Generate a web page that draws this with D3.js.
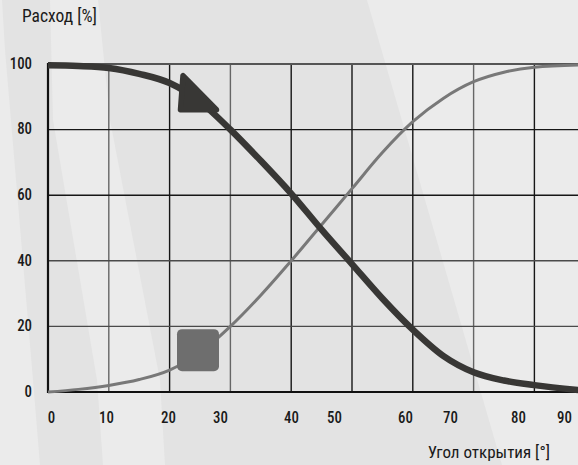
<!DOCTYPE html>
<html>
<head>
<meta charset="utf-8">
<script src="https://cdn.jsdelivr.net/npm/d3@7"></script>
<style>
  html, body { margin: 0; padding: 0; background: #e3e3e3; }
  svg { display: block; }
  text { font-family: "Roboto Condensed", Roboto, "Liberation Sans Narrow", sans-serif; fill: #1a1a1a; }
</style>
</head>
<body>
<svg id="chart" width="578" height="465"></svg>
<script>
// ---- data ----
const yAxisTitle = "Расход [%]";
const xAxisTitle = "Угол открытия [°]";
const xTickLabels = [0, 10, 20, 30, 40, 50, 60, 70, 80, 90];
const yTickLabels = [0, 20, 40, 60, 80, 100];
const curveAngles = [0, 5, 10, 15, 20, 25, 30, 35, 40, 45, 50, 55, 60, 65, 70, 75, 80, 87.2];
const closingValues = [99.6, 99.4, 98.8, 97, 94.2, 88.5, 80, 70.5, 60.5, 49.5, 39, 28.5, 19, 11, 6, 3.5, 2.1, 0.6];
const openingValues = [0, 0.8, 2, 3.8, 6.7, 12, 20, 29.5, 40, 51, 62, 73, 82.4, 89.5, 94.6, 97.5, 99, 99.7];
const markerAngle = 25;

// ---- layout ----
const W = 578, H = 465;
const pLeft = 48, pTop = 64, pBottom = 392, gridStep = 60.8;
const svg = d3.select("#chart");

const x = d3.scaleLinear().domain([0, 90]).range([pLeft, pLeft + gridStep * 9]);
const y = d3.scaleLinear().domain([0, 100]).range([pBottom, pTop]);
// tick labels are placed irregularly in the original artwork
const xLabel = d3.scaleLinear().domain(xTickLabels)
  .range([51, 106, 168, 220, 291, 334, 405, 450, 518, 564]);

// ---- background bands ----
const bg = svg.append("g");
bg.append("rect").attr("width", W).attr("height", H).attr("fill", "#e3e3e3");
const bands = [
  [[0,0],[2,0],[5,50],[33,380],[40,465],[0,465]],
  [[50,0],[98,0],[110,120],[160,380],[165,465],[103,465],[97,380],[53,120]],
  [[367,0],[578,0],[578,465],[502,465]]
];
bg.selectAll("path").data(bands).join("path")
  .attr("d", d => "M" + d.join("L") + "Z")
  .attr("fill", "#ebebeb");

// ---- grid ----
const grid = svg.append("g");
const gridX = d3.range(10, 100, 10);
grid.selectAll("line.v").data(gridX).join("line")
  .attr("class", "v")
  .attr("x1", d => x(d)).attr("x2", d => x(d))
  .attr("y1", y(100)).attr("y2", y(0))
  .attr("stroke", d => ((d / 10) % 2 === 0 || d === 50) ? "#161616" : "#666")
  .attr("stroke-width", 1.4);
grid.selectAll("line.h").data([20, 40, 60, 80]).join("line")
  .attr("class", "h")
  .attr("x1", x(0)).attr("x2", W)
  .attr("y1", d => y(d)).attr("y2", d => y(d))
  .attr("stroke", d => d >= 60 ? "#161616" : "#4a4a4a")
  .attr("stroke-width", 1.4);
grid.append("line").attr("x1", x(0)).attr("x2", W).attr("y1", y(100)).attr("y2", y(100))
  .attr("stroke", "#555").attr("stroke-width", 2.2);
grid.append("line").attr("x1", x(0)).attr("x2", x(0)).attr("y1", y(100) - 1).attr("y2", y(0) + 1)
  .attr("stroke", "#111").attr("stroke-width", 2.2);
grid.append("line").attr("x1", x(0) - 1).attr("x2", W).attr("y1", y(0)).attr("y2", y(0))
  .attr("stroke", "#111").attr("stroke-width", 2.2);

// ---- curves ----
const line = d3.line().x(d => x(d[0])).y(d => y(d[1])).curve(d3.curveMonotoneX);
const opening = curveAngles.map((a, i) => [a, openingValues[i]]);
const closing = curveAngles.map((a, i) => [a, closingValues[i]]);

svg.append("path").datum(opening).attr("d", line)
  .attr("fill", "none").attr("stroke", "#787878").attr("stroke-width", 3);
svg.append("path").datum(closing).attr("d", line)
  .attr("fill", "none").attr("stroke", "#383735").attr("stroke-width", 6.5);

// ---- markers ----
const mi = curveAngles.indexOf(markerAngle);
const mx = x(markerAngle);
const myClose = y(closingValues[mi]);
const myOpen = y(openingValues[mi]);
svg.append("path")
  .attr("d", `M${mx - 17},${myClose - 26}L${mx - 19.5},${myClose + 8}L${mx + 16.5},${myClose + 8}Z`)
  .attr("fill", "#383735").attr("stroke", "#383735")
  .attr("stroke-width", 5.5).attr("stroke-linejoin", "round");
svg.append("rect")
  .attr("x", mx - 23).attr("y", myOpen - 23.5)
  .attr("width", 42).attr("height", 42).attr("rx", 5)
  .attr("fill", "#6e6e6e");

// ---- axis labels ----
const yAx = d3.axisLeft(y).tickValues(yTickLabels).tickSize(0).tickPadding(0);
const gy = svg.append("g").attr("transform", "translate(32,-1)").call(yAx);
gy.select(".domain").remove();
gy.attr("font-family", null).attr("font-size", null);
gy.selectAll("text").attr("font-size", 16.5).attr("font-weight", 500).attr("fill", "#1a1a1a")
  .attr("transform", "scale(0.9,1)");

const xAx = d3.axisBottom(xLabel).tickValues(xTickLabels).tickSize(0).tickPadding(0);
const gx = svg.append("g").attr("transform", "translate(0,411)").call(xAx);
gx.select(".domain").remove();
gx.attr("font-family", null).attr("font-size", null);
gx.selectAll("text").attr("font-size", 16.5).attr("font-weight", 500)
  .attr("dy", "0.71em").attr("fill", "#1a1a1a").attr("transform", "scale(0.9,1)");

svg.append("text").attr("x", 22).attr("y", 22)
  .attr("font-size", 17.5).attr("fill", "#2a2a2a").text(yAxisTitle);
svg.append("text").attr("x", 550).attr("y", 458).attr("text-anchor", "end")
  .attr("font-size", 17).attr("fill", "#2a2a2a").text(xAxisTitle);
</script>
</body>
</html>
